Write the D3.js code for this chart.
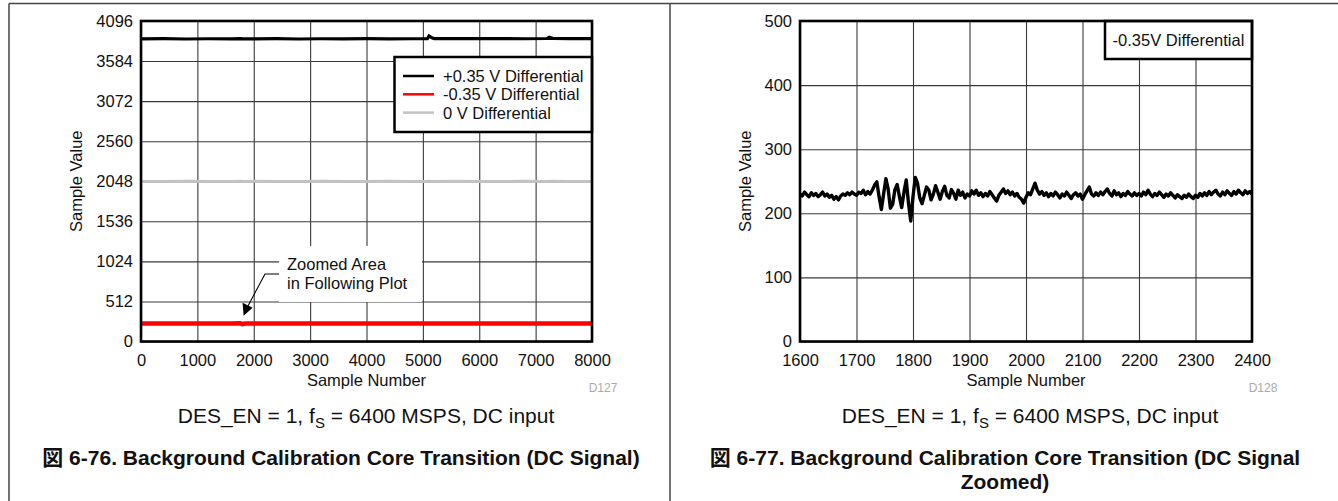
<!DOCTYPE html>
<html>
<head>
<meta charset="utf-8">
<script src="https://cdn.jsdelivr.net/npm/d3@7"></script>
<style>
  html, body { margin: 0; padding: 0; background: #fff; }
  svg { display: block; font-family: "Liberation Sans", Arial, "Noto Sans CJK JP", sans-serif; }
</style>
</head>
<body>
<svg id="chart" width="1338" height="501"></svg>
<script>
// ---------------- DATA ----------------
// Left chart (full record)
const overviewXTicks = [0, 1000, 2000, 3000, 4000, 5000, 6000, 7000, 8000];
const overviewYTicks = [0, 512, 1024, 1536, 2048, 2560, 3072, 3584, 4096];
const overviewSamples = [0, 400, 800, 1200, 1600, 1760, 1800, 1840, 2000, 2400, 2800, 3200, 3600, 4000, 4400, 4800, 5080, 5110, 5160, 5200, 5600, 6000, 6400, 6800, 7200, 7240, 7300, 7600, 8000];
const plusValues  = [3868, 3870, 3866, 3869, 3868, 3870, 3867, 3869, 3868, 3870, 3866, 3869, 3868, 3870, 3867, 3869, 3870, 3905, 3880, 3871, 3872, 3870, 3871, 3869, 3872, 3888, 3874, 3871, 3871];
const minusValues = [231, 230, 231, 230, 229, 232, 222, 230, 231, 230, 231, 230, 230, 231, 230, 231, 230, 231, 230, 230, 231, 230, 231, 230, 231, 230, 231, 230, 231];
const zeroValues  = [2046, 2045, 2047, 2046, 2045, 2047, 2046, 2045, 2047, 2046, 2045, 2047, 2046, 2045, 2047, 2046, 2045, 2047, 2046, 2045, 2047, 2046, 2045, 2047, 2046, 2045, 2047, 2046, 2045];
const overviewSeries = ["+0.35 V Differential", "-0.35 V Differential", "0 V Differential"];

// Right chart (zoomed, -0.35 V differential), one value every 4 samples from 1600 to 2400
const zoomXTicks = [1600, 1700, 1800, 1900, 2000, 2100, 2200, 2300, 2400];
const zoomYTicks = [0, 100, 200, 300, 400, 500];
const zoomStart = 1600, zoomStep = 4;
const zoomValues = [
  230, 227, 233, 229, 226, 232, 228, 231, 226, 229, 233, 227, 230, 225, 228, 222, 226, 221, 227, 230, 228, 232, 229, 233, 230,
  228, 233, 231, 236, 229, 234, 230, 236, 244, 249, 226, 206, 230, 254, 238, 208, 214, 237, 245, 226, 209, 233, 252, 216, 188,
  226, 256, 247, 224, 215, 228, 241, 236, 221, 230, 243, 233, 222, 234, 242, 228, 224, 237, 231, 222, 236, 228, 233, 224, 230,
  227, 235, 230, 236, 228, 232, 226, 231, 227, 234, 229, 224, 219, 228, 233, 238, 231, 235, 229, 233, 227, 231, 225, 222, 216,
  225, 232, 229, 238, 247, 236, 230, 234, 228, 232, 226, 231, 227, 233, 229, 224, 230, 227, 233, 228, 223, 229, 232, 227, 230,
  222, 229, 235, 241, 230, 227, 232, 228, 233, 229, 234, 238, 231, 227, 235, 229, 232, 226, 231, 228, 234, 230, 227, 232, 228,
  231, 227, 233, 229, 236, 230, 226, 231, 228, 233, 229, 225, 230, 227, 232, 228, 224, 229, 226, 223, 228, 225, 230, 226, 223,
  228, 225, 231, 227, 232, 228, 234, 229, 233, 236, 230, 227, 233, 229, 235, 231, 228, 234, 230, 236, 232, 229, 235, 231, 234, 230
];
const zoomLegend = "-0.35V Differential";

// ---------------- DRAW ----------------
const svg = d3.select("#chart");
const FONT = 16.5;

// panel frame
const frame = svg.append("g").attr("stroke", "#444").attr("stroke-width", 1.5).attr("fill", "none");
frame.append("line").attr("x1", 9).attr("x2", 1338).attr("y1", 3.5).attr("y2", 3.5);
frame.append("line").attr("x1", 9).attr("x2", 9).attr("y1", 3.5).attr("y2", 501);
frame.append("line").attr("x1", 670).attr("x2", 670).attr("y1", 3.5).attr("y2", 501);

function panel(opts) {
  const {x0, x1, y0, y1, xDomain, yDomain, xTicks, yTicks} = opts;
  const x = d3.scaleLinear().domain(xDomain).range([x0, x1]);
  const y = d3.scaleLinear().domain(yDomain).range([y1, y0]);
  const g = svg.append("g");

  // grid
  g.append("g").attr("transform", `translate(0,${y1})`)
    .call(d3.axisBottom(x).tickValues(xTicks).tickSize(-(y1 - y0)).tickFormat(""))
    .call(s => s.select(".domain").remove())
    .call(s => s.selectAll("line").attr("stroke", "#3a3a3a").attr("stroke-width", 1.1));
  g.append("g").attr("transform", `translate(${x0},0)`)
    .call(d3.axisLeft(y).tickValues(yTicks).tickSize(-(x1 - x0)).tickFormat(""))
    .call(s => s.select(".domain").remove())
    .call(s => s.selectAll("line").attr("stroke", "#3a3a3a").attr("stroke-width", 1.1));

  // tick labels
  g.append("g").attr("transform", `translate(0,${y1})`)
    .call(d3.axisBottom(x).tickValues(xTicks).tickSize(0).tickPadding(13).tickFormat(d3.format("d")))
    .call(s => s.select(".domain").remove())
    .call(s => s.selectAll("text").attr("font-size", FONT).attr("fill", "#111").attr("font-family", null));
  g.append("g").attr("transform", `translate(${x0},0)`)
    .call(d3.axisLeft(y).tickValues(yTicks).tickSize(0).tickPadding(8).tickFormat(d3.format("d")))
    .call(s => s.select(".domain").remove())
    .call(s => s.selectAll("text").attr("font-size", FONT).attr("fill", "#111").attr("font-family", null));

  // axis titles
  g.append("text").attr("x", (x0 + x1) / 2).attr("y", 386).attr("text-anchor", "middle")
    .attr("font-size", FONT).attr("fill", "#111").text("Sample Number");
  g.append("text").attr("transform", `translate(${opts.yTitleX},${(y0 + y1) / 2}) rotate(-90)`)
    .attr("text-anchor", "middle").attr("font-size", FONT).attr("fill", "#111").text("Sample Value");
  g.append("text").attr("x", x1 + 11).attr("y", 392).attr("text-anchor", "middle")
    .attr("font-size", 12).attr("fill", "#aaa").text(opts.code);

  // caption
  const cap = g.append("text").attr("x", opts.capX).attr("y", 423).attr("text-anchor", "middle")
    .attr("font-size", 21).attr("fill", "#111");
  cap.append("tspan").text("DES_EN = 1, f");
  cap.append("tspan").attr("font-size", 15).attr("dy", 5).text("S");
  cap.append("tspan").attr("dy", -5).text(" = 6400 MSPS, DC input");

  // title
  opts.title.forEach((t, i) => {
    g.append("text").attr("x", opts.titleX).attr("y", 465 + i * 24).attr("text-anchor", "middle")
      .attr("font-size", 21).attr("font-weight", "bold").attr("fill", "#111").text(t);
  });
  return {g, x, y};
}

// ---------- left panel ----------
const L = panel({
  x0: 141, x1: 592, y0: 21, y1: 341.5,
  xDomain: [0, 8000], yDomain: [0, 4096],
  xTicks: overviewXTicks, yTicks: overviewYTicks,
  yTitleX: 82, code: "D127", capX: 366, titleX: 341,
  title: ["図 6-76. Background Calibration Core Transition (DC Signal)"]
});
const lineL = vals => d3.line().x((d, i) => L.x(overviewSamples[i])).y(d => L.y(d))(vals);
L.g.append("path").attr("d", lineL(zeroValues)).attr("fill", "none").attr("stroke", "#c2c2c2").attr("stroke-width", 3);
L.g.append("path").attr("d", lineL(plusValues)).attr("fill", "none").attr("stroke", "#000").attr("stroke-width", 3.2);
L.g.append("path").attr("d", lineL(minusValues)).attr("fill", "none").attr("stroke", "#ff0000").attr("stroke-width", 4.5);

// annotation box
L.g.append("rect").attr("x", 279).attr("y", 246).attr("width", 143).attr("height", 56).attr("fill", "#fff");
L.g.append("text").attr("x", 287).attr("y", 270).attr("font-size", FONT).attr("fill", "#111").text("Zoomed Area");
L.g.append("text").attr("x", 287).attr("y", 289).attr("font-size", FONT).attr("fill", "#111").text("in Following Plot");
const tipX = L.x(1820), tipY = L.y(330);
L.g.append("path").attr("d", `M279,274 L265,274 L${tipX + 4},${tipY - 9}`).attr("fill", "none").attr("stroke", "#000").attr("stroke-width", 1.1);
L.g.append("path")
  .attr("d", `M${tipX},${tipY} L${tipX - 1},${tipY - 13} L${tipX + 9},${tipY - 8} Z`)
  .attr("fill", "#000");

// legend
const leg = L.g.append("g");
leg.append("rect").attr("x", 394.5).attr("y", 57).attr("width", 197.5).attr("height", 75)
  .attr("fill", "#fff").attr("stroke", "#000").attr("stroke-width", 2.5);
const legColors = ["#000", "#ff0000", "#c2c2c2"];
overviewSeries.forEach((s, i) => {
  const cy = 76 + i * 18.3;
  leg.append("line").attr("x1", 403).attr("x2", 434).attr("y1", cy).attr("y2", cy)
    .attr("stroke", legColors[i]).attr("stroke-width", 2.5);
  leg.append("text").attr("x", 443).attr("y", cy + 6).attr("font-size", FONT).attr("fill", "#111").text(s);
});

// border on top
L.g.append("rect").attr("x", 141).attr("y", 21).attr("width", 451).attr("height", 320.5)
  .attr("fill", "none").attr("stroke", "#000").attr("stroke-width", 2.6);

// ---------- right panel ----------
const R = panel({
  x0: 800, x1: 1252, y0: 21, y1: 341.5,
  xDomain: [1600, 2400], yDomain: [0, 500],
  xTicks: zoomXTicks, yTicks: zoomYTicks,
  yTitleX: 751, code: "D128", capX: 1030, titleX: 1005,
  title: ["図 6-77. Background Calibration Core Transition (DC Signal", "Zoomed)"]
});
R.g.append("path")
  .attr("d", d3.line().x((d, i) => R.x(zoomStart + i * zoomStep)).y(d => R.y(d))(zoomValues))
  .attr("fill", "none").attr("stroke", "#000").attr("stroke-width", 3.4).attr("stroke-linejoin", "round");
R.g.append("rect").attr("x", 1105).attr("y", 21).attr("width", 147).attr("height", 38)
  .attr("fill", "#fff").attr("stroke", "#000").attr("stroke-width", 2.5);
R.g.append("text").attr("x", 1178.5).attr("y", 46).attr("text-anchor", "middle")
  .attr("font-size", FONT).attr("fill", "#111").text(zoomLegend);
R.g.append("rect").attr("x", 800).attr("y", 21).attr("width", 452).attr("height", 320.5)
  .attr("fill", "none").attr("stroke", "#000").attr("stroke-width", 2.6);
</script>
</body>
</html>
